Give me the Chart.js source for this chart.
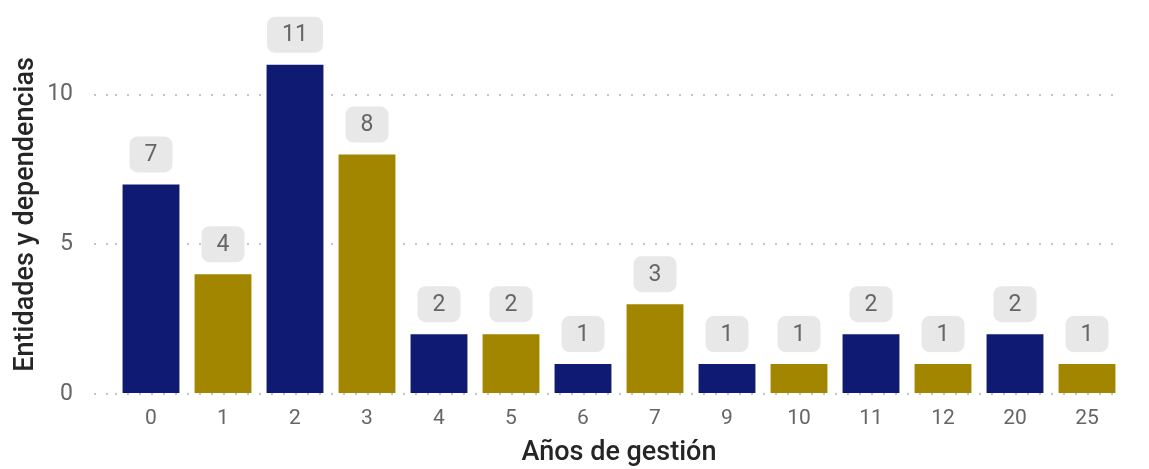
<!DOCTYPE html>
<html lang="es">
<head>
<meta charset="utf-8">
<style>
    body { margin: 0; background: #fff; }
    #wrap { width: 1149px; height: 469px; }
</style>
</head>
<body>
<div id="wrap">
    <canvas id="myChart" width="1149" height="469"></canvas>
</div>
<script src="https://cdn.jsdelivr.net/npm/chart.js"></script>
<script>
    // datos
    const categorias = ['0', '1', '2', '3', '4', '5', '6', '7', '9', '10', '11', '12', '20', '25'];
    const valores = [7, 4, 11, 8, 2, 2, 1, 3, 1, 1, 2, 1, 2, 1];
    const ticksY = [0, 5, 10];

    const azul = '#0f1a73';
    const dorado = '#a38600';
    const fuente = 'Roboto, "Noto Sans", sans-serif';

    // colores alternados
    const colores = valores.map(function (v, i) {
        return i % 2 === 0 ? azul : dorado;
    });

    // etiquetas con caja gris redondeada encima de cada barra
    const etiquetas = {
        id: 'etiquetas',
        afterDatasetsDraw(chart) {
            const ctx = chart.ctx;
            const meta = chart.getDatasetMeta(0);
            ctx.save();
            ctx.font = '23px ' + fuente;
            ctx.textAlign = 'center';
            ctx.textBaseline = 'middle';
            meta.data.forEach(function (bar, i) {
                const txt = String(valores[i]);
                const w = ctx.measureText(txt).width + 30, h = 36;
                const x = bar.x - w / 2;
                const y = bar.y - 12 - h;
                ctx.fillStyle = '#e8e8e8';
                ctx.beginPath();
                ctx.roundRect(x, y, w, h, 8);
                ctx.fill();
                ctx.fillStyle = '#666666';
                ctx.fillText(txt, bar.x, y + h / 2 + 1);
            });
            ctx.restore();
        }
    };

    new Chart(document.getElementById('myChart'), {
        type: 'bar',
        data: {
            labels: categorias,
            datasets: [{
                data: valores,
                backgroundColor: colores,
                borderWidth: 0,
                categoryPercentage: 1,
                barPercentage: 0.79
            }]
        },
        options: {
            responsive: false,
            animation: false,
            layout: { padding: { top: 32, right: 26, left: 0, bottom: 0 } },
            plugins: {
                legend: { display: false },
                tooltip: { enabled: false }
            },
            scales: {
                x: {
                    grid: { display: false, drawTicks: false },
                    border: { display: false },
                    ticks: {
                        color: '#666666',
                        font: { family: fuente, size: 21 },
                        padding: 12
                    },
                    title: {
                        display: true,
                        text: 'Años de gestión',
                        color: '#252525',
                        font: { family: fuente, size: 27, weight: '500' },
                        padding: { top: 4, bottom: 0 }
                    },
                    afterFit(scale) { scale.height = 75; }
                },
                y: {
                    min: 0,
                    max: 12,
                    grid: {
                        color: '#c4c4c4',
                        lineWidth: 2,
                        tickLength: 21,
                        tickBorderDash: [2, 10],
                        tickColor: '#c4c4c4',
                        tickWidth: 2
                    },
                    border: { display: false, dash: [2, 10] },
                    ticks: {
                        color: '#666666',
                        font: { family: fuente, size: 23 },
                        padding: 21,
                        stepSize: 5
                    },
                    afterBuildTicks(scale) {
                        scale.ticks = ticksY.map(function (v) { return { value: v }; });
                    },
                    title: {
                        display: true,
                        text: 'Entidades y dependencias',
                        color: '#252525',
                        font: { family: fuente, size: 27, weight: '500' },
                        padding: { top: 10, bottom: 0 }
                    },
                    afterFit(scale) { scale.width = 115; }
                }
            }
        },
        plugins: [etiquetas]
    });
</script>
</body>
</html>
